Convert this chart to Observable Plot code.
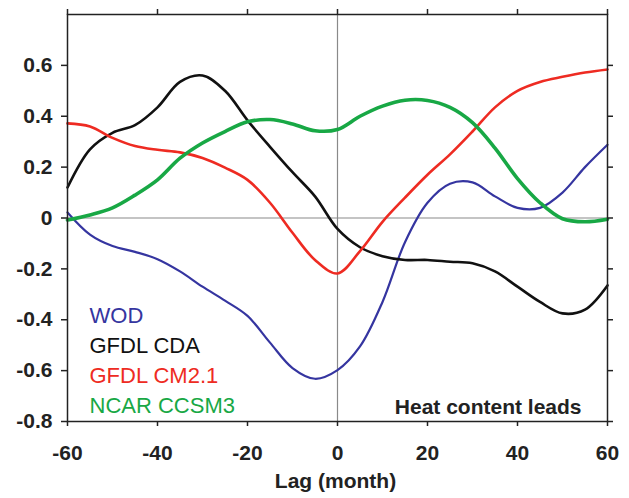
<!DOCTYPE html>
<html>
<head>
<meta charset="utf-8">
<script src="https://cdn.jsdelivr.net/npm/d3@7"></script>
<script src="https://cdn.jsdelivr.net/npm/@observablehq/plot@0.6"></script>
<style>
  body { margin: 0; background: #fff; }
</style>
</head>
<body>
<div id="chart"></div>
<script>
// ---- data ----
const lags = [-60,-55,-50,-45,-40,-35,-30,-25,-20,-15,-10,-5,0,5,10,15,20,25,30,35,40,45,50,55,60];
const wod =       [0.022,-0.065,-0.110,-0.133,-0.162,-0.210,-0.270,-0.325,-0.385,-0.490,-0.590,-0.632,-0.598,-0.505,-0.330,-0.095,0.060,0.135,0.140,0.085,0.040,0.040,0.100,0.200,0.288];
const gfdlCda =   [0.120,0.270,0.335,0.365,0.435,0.535,0.560,0.500,0.384,0.280,0.180,0.085,-0.043,-0.115,-0.150,-0.165,-0.165,-0.172,-0.178,-0.210,-0.270,-0.330,-0.375,-0.360,-0.265];
const gfdlCm21 =  [0.372,0.360,0.315,0.283,0.268,0.258,0.236,0.198,0.150,0.060,-0.058,-0.165,-0.218,-0.130,-0.015,0.080,0.170,0.250,0.340,0.435,0.500,0.535,0.555,0.572,0.584];
const ncarCcsm3 = [-0.008,0.012,0.040,0.090,0.150,0.235,0.295,0.340,0.378,0.387,0.370,0.343,0.348,0.400,0.440,0.463,0.462,0.435,0.375,0.275,0.155,0.060,-0.003,-0.015,-0.005];

const seriesNames = ["WOD", "GFDL CDA", "GFDL CM2.1", "NCAR CCSM3"];
const seriesValues = [wod, gfdlCda, gfdlCm21, ncarCcsm3];
const seriesColors = ["#3535a0", "#111111", "#ee2b22", "#18a845"];
const seriesWidths = [2.2, 2.6, 2.6, 3.6];

const xTicks = [-60, -40, -20, 0, 20, 40, 60];
const yTicks = [-0.8, -0.6, -0.4, -0.2, 0, 0.2, 0.4, 0.6];
const xLabel = "Lag (month)";
const annotation = "Heat content leads";

// ---- build tables ----
const tables = seriesValues.map((vals, i) =>
  lags.map((lag, j) => ({lag, value: vals[j], series: seriesNames[i]}))
);

const fmtX = d => String(d);
const fmtY = d => d === 0 ? "0" : d.toFixed(1);
const axisColor = "#222";

const chart = Plot.plot({
  width: 629,
  height: 498,
  marginLeft: 67,
  marginRight: 22,
  marginTop: 14,
  marginBottom: 77,
  x: {domain: [-60, 60], label: null},
  y: {domain: [-0.8, 0.8], label: null},
  style: {
    fontFamily: "'Liberation Sans', Arial, Helvetica, sans-serif",
    fontSize: "21px",
    color: axisColor,
    background: "#fff"
  },
  marks: [
    Plot.ruleX([0], {stroke: "#8a8a8a", strokeWidth: 1.2}),
    Plot.ruleY([0], {stroke: "#8a8a8a", strokeWidth: 1.2}),
    ...tables.map((t, i) => Plot.line(t, {
      x: "lag", y: "value",
      stroke: seriesColors[i],
      strokeWidth: seriesWidths[i],
      curve: "catmull-rom"
    })),
    Plot.frame({stroke: axisColor, strokeWidth: 1.5}),
    Plot.axisX(xTicks, {anchor: "bottom", tickSize: 5, tickPadding: 19, tickFormat: fmtX,
      fontWeight: "bold", fontSize: 21, stroke: axisColor, strokeWidth: 1.5, label: null}),
    Plot.axisX(xTicks, {anchor: "top", tickSize: 6, tickFormat: () => "",
      stroke: axisColor, strokeWidth: 1.5, label: null}),
    Plot.axisY(yTicks, {anchor: "left", tickSize: 6, tickPadding: 9, tickFormat: fmtY,
      fontWeight: "bold", fontSize: 21, stroke: axisColor, strokeWidth: 1.5, label: null}),
    Plot.axisY(yTicks, {anchor: "right", tickSize: 5, tickFormat: () => "",
      stroke: axisColor, strokeWidth: 1.5, label: null}),
    ...seriesNames.map((name, i) => Plot.text([name], {
      text: d => d,
      frameAnchor: "bottom-left",
      dx: 22,
      dy: -(99 - i * 30.3),
      lineAnchor: "bottom",
      textAnchor: "start",
      fill: seriesColors[i],
      fontSize: 22
    })),
    Plot.text([annotation], {
      text: d => d,
      frameAnchor: "bottom-right",
      dx: -26,
      dy: -8,
      lineAnchor: "bottom",
      textAnchor: "end",
      fill: "#222",
      fontSize: 21,
      fontWeight: "bold"
    }),
    Plot.text([xLabel], {
      text: d => d,
      frameAnchor: "bottom",
      dx: -2,
      dy: 66,
      lineAnchor: "bottom",
      fill: "#222",
      fontSize: 21,
      fontWeight: "bold"
    })
  ]
});

document.getElementById("chart").appendChild(chart);
</script>
</body>
</html>
